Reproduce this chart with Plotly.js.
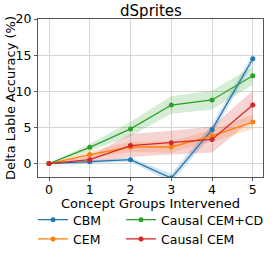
<!DOCTYPE html>
<html><head><meta charset="utf-8">
<script src="https://cdn.plot.ly/plotly-3.0.1.min.js"></script>
<style>html,body{margin:0;padding:0;background:#fff}</style>
</head><body><div id="c" style="width:274px;height:254px"></div>
<script>
const groups = [0, 1, 2, 3, 4, 5];
const cbm = [0, 0.25, 0.55, -2.0, 4.7, 14.5];
const cbmErr = [0, 0.2, 0.3, 0.6, 0.7, 0.7];
const cem = [0, 1.25, 2.3, 2.3, 3.85, 5.75];
const cemErr = [0, 0.5, 0.7, 0.8, 0.8, 1.0];
const ccemcd = [0, 2.25, 4.8, 8.1, 8.8, 12.15];
const ccemcdErr = [0, 0.5, 1.0, 1.2, 1.3, 1.25];
const ccem = [0, 0.55, 2.5, 2.9, 3.35, 8.1];
const ccemErr = [0, 0.5, 1.6, 1.65, 1.8, 2.0];
const xTicks = [0, 1, 2, 3, 4, 5];
const yTicks = [0, 5, 10, 15, 20];

const series = [
  {name: 'CBM', y: cbm, e: cbmErr, color: '#1f77b4', fill: 'rgba(31,119,180,0.2)', legend: 'legend'},
  {name: 'CEM', y: cem, e: cemErr, color: '#ff7f0e', fill: 'rgba(255,127,14,0.2)', legend: 'legend'},
  {name: 'Causal CEM+CD', y: ccemcd, e: ccemcdErr, color: '#2ca02c', fill: 'rgba(44,160,44,0.2)', legend: 'legend2'},
  {name: 'Causal CEM', y: ccem, e: ccemErr, color: '#d62728', fill: 'rgba(214,39,40,0.2)', legend: 'legend2'}
];
const traces = [];
series.forEach(s => {
  const up = s.y.map((v, i) => v + s.e[i]);
  const lo = s.y.map((v, i) => v - s.e[i]);
  traces.push({x: groups.concat(groups.slice().reverse()), y: up.concat(lo.slice().reverse()),
    fill: 'toself', fillcolor: s.fill, line: {width: 0}, mode: 'lines', showlegend: false, hoverinfo: 'skip'});
});
series.forEach(s => {
  traces.push({x: groups, y: s.y, name: s.name, mode: 'lines+markers', legend: s.legend,
    line: {color: s.color, width: 1.3}, marker: {color: s.color, size: 5}});
});

const layout = {
  width: 274, height: 254,
  margin: {l: 38, r: 11, t: 19, b: 77, autoexpand: false},
  paper_bgcolor: '#fff', plot_bgcolor: '#fff',
  font: {family: 'DejaVu Sans', size: 12.5, color: '#000'},
  title: {text: 'dSprites', xref: 'container', yref: 'container', x: 151 / 274, xanchor: 'center', y: 1 - 10.5 / 254, yanchor: 'middle', font: {size: 15}},
  xaxis: {range: [-0.27, 5.25], tickvals: xTicks, ticktext: xTicks.map(String), showgrid: true, gridcolor: '#d6d6d6', gridwidth: 1,
    zeroline: false, showline: true, mirror: true, linecolor: '#555', linewidth: 1, ticks: 'outside', ticklen: 3, tickcolor: '#555',
    tickfont: {size: 12.5}, ticklabelstandoff: -2, automargin: false},
  yaxis: {range: [-1.85, 20], tickvals: yTicks, ticktext: yTicks.map(String), showgrid: true, gridcolor: '#d6d6d6', gridwidth: 1,
    zeroline: false, showline: true, mirror: true, linecolor: '#555', linewidth: 1, ticks: 'outside', ticklen: 3, tickcolor: '#555',
    tickfont: {size: 12.5}, automargin: false},
  annotations: [
    {text: 'Concept Groups Intervened', xref: 'paper', yref: 'paper', x: 0.5, y: (177 - 203) / 158, xanchor: 'center', yanchor: 'middle',
      showarrow: false, font: {size: 13}},
    {text: 'Delta Lable Accuracy (%)', xref: 'paper', yref: 'paper', x: (10 - 38) / 225, y: 0.5, xanchor: 'center', yanchor: 'middle',
      textangle: -90, showarrow: false, font: {size: 13}}
  ],
  legend: {x: -0.022, xanchor: 'left', y: (177 - 205) / 158, yanchor: 'top', font: {size: 12.5}, itemwidth: 30, bgcolor: 'rgba(0,0,0,0)'},
  legend2: {x: 0.369, xanchor: 'left', y: (177 - 205) / 158, yanchor: 'top', font: {size: 12.5}, itemwidth: 30, bgcolor: 'rgba(0,0,0,0)'},
  showlegend: true
};
Plotly.newPlot('c', traces, layout, {displayModeBar: false, staticPlot: true});
</script></body></html>
